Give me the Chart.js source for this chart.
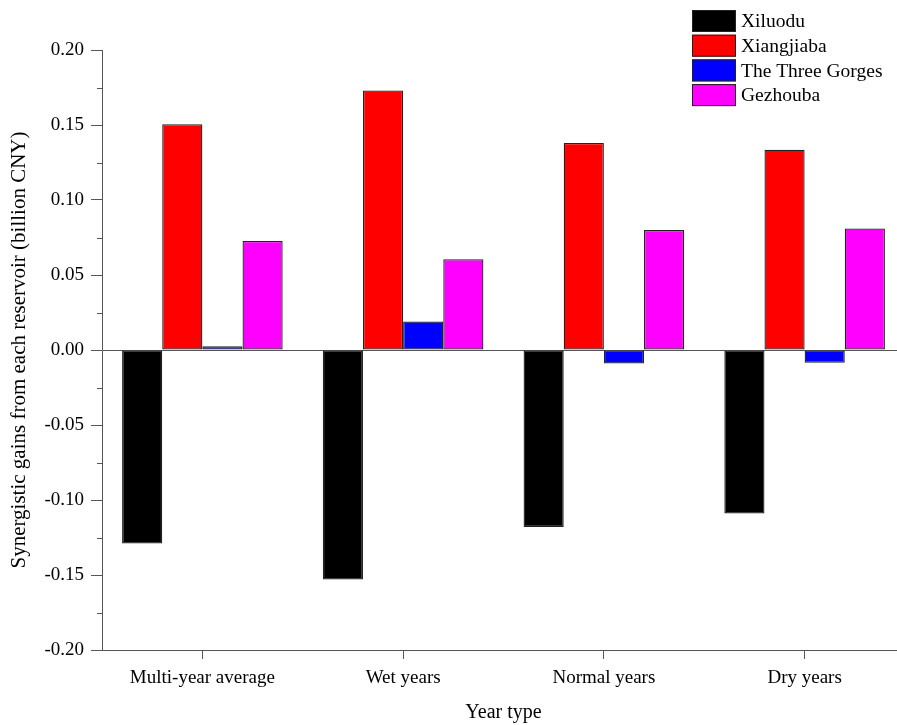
<!DOCTYPE html>
<html>
<head>
<meta charset="utf-8">
<script src="https://cdn.jsdelivr.net/npm/chart.js@4.4.0/dist/chart.umd.min.js"></script>
<style>
  html, body { margin: 0; padding: 0; background: #fff; overflow: hidden; }
  #wrap { position: relative; width: 905px; height: 725px; }
</style>
</head>
<body>
<div id="wrap"><canvas id="gainsChart"></canvas></div>
<script>
const yearTypes = ['Multi-year average', 'Wet years', 'Normal years', 'Dry years'];
const xiluodu = [-0.129, -0.153, -0.118, -0.109];
const xiangjiaba = [0.1505, 0.173, 0.138, 0.1335];
const threeGorges = [0.0025, 0.019, -0.009, -0.0085];
const gezhouba = [0.0727, 0.0605, 0.080, 0.081];
const reservoirNames = ['Xiluodu', 'Xiangjiaba', 'The Three Gorges', 'Gezhouba'];
const reservoirColors = ['#000000', '#ff0000', '#0000ff', '#ff00ff'];

const serif = 'Liberation Serif';
const axisColor = '#555555';

const isMajor = v => Math.abs(Math.round(v * 1000) % 50) === 0;

// legend drawn as a stacked list in the top right corner
const boxLegend = {
    id: 'boxLegend',
    afterDraw(chart) {
        const ctx = chart.ctx;
        ctx.save();
        ctx.font = '19.5px "' + serif + '"';
        ctx.textBaseline = 'middle';
        chart.data.datasets.forEach((ds, i) => {
            const top = 10 + i * 24.7;
            ctx.fillStyle = ds.backgroundColor;
            ctx.fillRect(692, top, 44, 22);
            ctx.strokeStyle = '#222';
            ctx.lineWidth = 1;
            ctx.strokeRect(692.5, top + 0.5, 43, 21);
            ctx.fillStyle = '#000';
            ctx.fillText(ds.label, 741, top + 12);
        });
        ctx.restore();
    }
};

// short minor ticks on the y axis
const minorTicks = {
    id: 'minorTicks',
    afterDraw(chart) {
        const y = chart.scales.y;
        const ctx = chart.ctx;
        ctx.save();
        ctx.strokeStyle = axisColor;
        ctx.lineWidth = 1;
        y.ticks.forEach(t => {
            if (isMajor(t.value)) return;
            const py = Math.round(y.getPixelForValue(t.value)) + 0.5;
            ctx.beginPath();
            ctx.moveTo(y.right - 5, py);
            ctx.lineTo(y.right, py);
            ctx.stroke();
        });
        ctx.restore();
    }
};

new Chart(document.getElementById('gainsChart'), {
    type: 'bar',
    data: {
        labels: yearTypes,
        datasets: [xiluodu, xiangjiaba, threeGorges, gezhouba].map((d, i) => ({
            label: reservoirNames[i],
            data: d,
            backgroundColor: reservoirColors[i],
            borderColor: '#222',
            borderWidth: 1.3,
            borderSkipped: false,
            categoryPercentage: 0.8,
            barPercentage: 1.0
        }))
    },
    options: {
        responsive: true,
        maintainAspectRatio: false,
        animation: false,
        layout: { padding: { top: 50, left: 0, right: 0, bottom: 0 } },
        plugins: { legend: { display: false }, tooltip: { enabled: false } },
        scales: {
            x: {
                offset: true,
                afterFit: s => { s.height = 75; },
                border: { display: true, color: axisColor, width: 1 },
                grid: { offset: false, drawOnChartArea: false, color: axisColor, tickColor: axisColor, tickLength: 9 },
                ticks: { color: '#000', padding: 8, font: { family: serif, size: 19 } },
                title: { display: true, text: 'Year type', color: '#000', padding: { top: 4, bottom: 0 }, font: { family: serif, size: 20 } }
            },
            y: {
                min: -0.2,
                max: 0.2,
                afterFit: s => { s.width = 102; },
                border: { display: true, color: axisColor, width: 1 },
                grid: {
                    drawOnChartArea: true,
                    color: c => (c.tick && c.tick.value === 0) ? axisColor : 'rgba(0,0,0,0)',
                    tickColor: c => (c.tick && isMajor(c.tick.value)) ? axisColor : 'rgba(0,0,0,0)',
                    tickLength: 11
                },
                ticks: {
                    stepSize: 0.025,
                    color: '#000',
                    padding: 7,
                    font: { family: serif, size: 19 },
                    callback: v => isMajor(v) ? v.toFixed(2) : ''
                },
                title: { display: true, text: 'Synergistic gains from each reservoir (billion CNY)', color: '#000', padding: { top: 7, bottom: 0 }, font: { family: serif, size: 21 } }
            }
        }
    },
    plugins: [boxLegend, minorTicks]
});
</script>
</body>
</html>
